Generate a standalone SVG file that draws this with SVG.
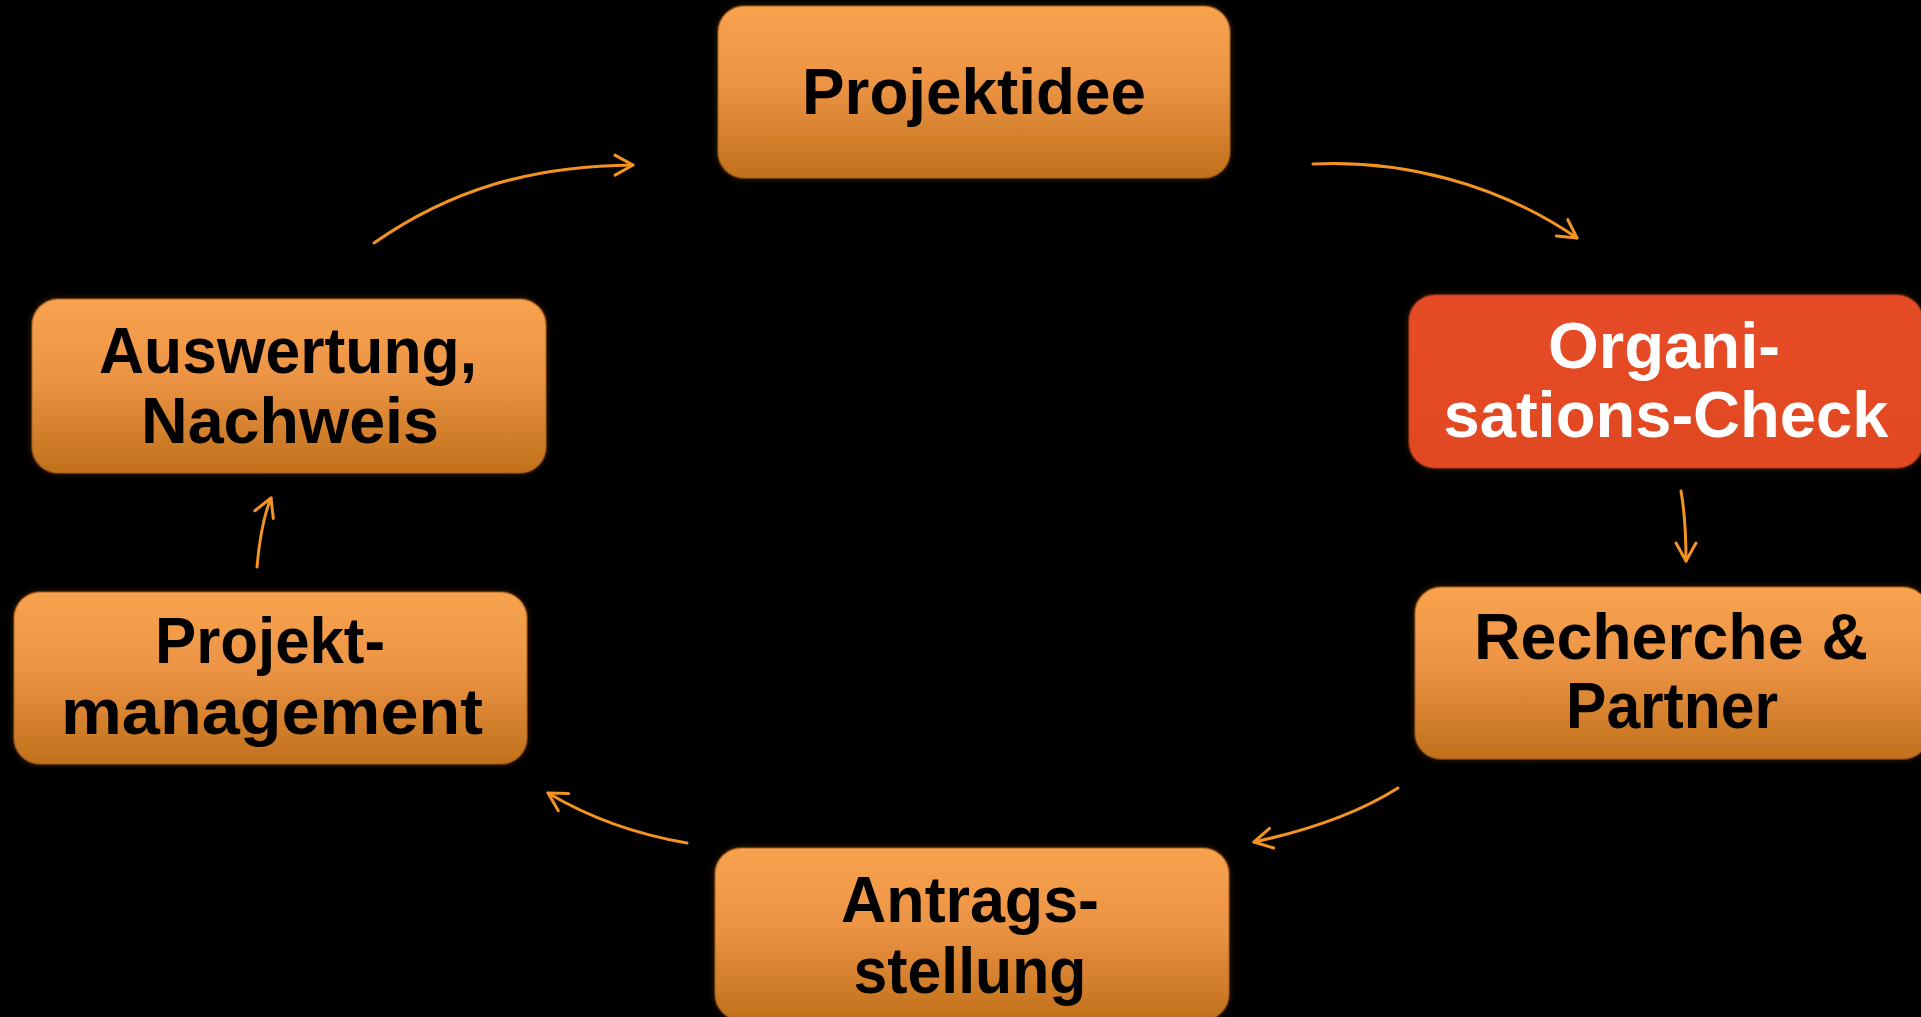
<svg xmlns="http://www.w3.org/2000/svg" width="1921" height="1017" viewBox="0 0 1921 1017">
<defs>
<linearGradient id="og" x1="0" y1="0" x2="0" y2="1">
<stop offset="0" stop-color="#F8A24F"/>
<stop offset="0.45" stop-color="#EC9444"/>
<stop offset="1" stop-color="#C1701B"/>
</linearGradient>
<linearGradient id="rg" x1="0" y1="0" x2="0" y2="1">
<stop offset="0" stop-color="#E64C26"/>
<stop offset="1" stop-color="#E14823"/>
</linearGradient>
<filter id="soft" x="-5%" y="-10%" width="110%" height="120%">
<feGaussianBlur in="SourceAlpha" stdDeviation="3" result="b"/>
<feFlood flood-color="#6b3a10" flood-opacity="0.6"/>
<feComposite in2="b" operator="in" result="s"/>
<feMerge><feMergeNode in="s"/><feMergeNode in="SourceGraphic"/></feMerge>
</filter>
<marker id="arr" markerUnits="userSpaceOnUse" markerWidth="40" markerHeight="40" refX="0" refY="0" orient="auto" overflow="visible">
<path d="M-18,-10 L0,0 L-18,10" fill="none" stroke="#F39322" stroke-width="3" stroke-linecap="round" stroke-linejoin="round"/>
</marker>
<style>
.box{fill:url(#og);stroke:#A9601A;stroke-opacity:0.5;stroke-width:2;filter:url(#soft)}
.red{fill:url(#rg);stroke:#B83A1C;stroke-opacity:0.5;stroke-width:2;filter:url(#soft)}
.t{font-family:"Liberation Sans",Arial,sans-serif;font-weight:bold;font-size:65px;text-anchor:middle;fill:#000}
.w{fill:#fff}
.c{fill:none;stroke:#F39322;stroke-width:3;stroke-linecap:round;marker-end:url(#arr)}
</style>
</defs>
<rect width="1921" height="1017" fill="#000"/>
<g id="connectors">
<path class="c" d="M1313,164 C1400,160 1495,182 1577,238"/>
<path class="c" d="M1681,491 Q1686,520 1686,561"/>
<path class="c" d="M1398,788 C1360,812 1310,830 1254,842"/>
<path class="c" d="M687,843 C640,835 590,818 548,793"/>
<path class="c" d="M257,567 Q261,522 271,498"/>
<path class="c" d="M374,243 C450,190 530,166 633,165"/>
</g>
<g id="projektidee">
<rect class="box" x="718" y="6" width="512" height="172" rx="26"/>
<text class="t" x="974" y="114" textLength="344" lengthAdjust="spacingAndGlyphs">Projektidee</text>
</g>
<g id="organisations-check">
<rect class="red" x="1409" y="295" width="514" height="173" rx="26"/>
<text class="t w" x="1664" y="368" textLength="232" lengthAdjust="spacingAndGlyphs">Organi-</text>
<text class="t w" x="1666" y="437" textLength="445" lengthAdjust="spacingAndGlyphs">sations-Check</text>
</g>
<g id="recherche-partner">
<rect class="box" x="1415" y="587" width="514" height="172" rx="26"/>
<text class="t" x="1671" y="659" textLength="394" lengthAdjust="spacingAndGlyphs">Recherche &amp;</text>
<text class="t" x="1672" y="728" textLength="212" lengthAdjust="spacingAndGlyphs">Partner</text>
</g>
<g id="antragsstellung">
<rect class="box" x="715" y="848" width="514" height="172" rx="26"/>
<text class="t" x="970" y="922" textLength="258" lengthAdjust="spacingAndGlyphs">Antrags-</text>
<text class="t" x="970" y="993" textLength="233" lengthAdjust="spacingAndGlyphs">stellung</text>
</g>
<g id="projektmanagement">
<rect class="box" x="14" y="592" width="513" height="172" rx="26"/>
<text class="t" x="270" y="663" textLength="230" lengthAdjust="spacingAndGlyphs">Projekt-</text>
<text class="t" x="272" y="734" textLength="422" lengthAdjust="spacingAndGlyphs">management</text>
</g>
<g id="auswertung-nachweis">
<rect class="box" x="32" y="299" width="514" height="174" rx="26"/>
<text class="t" x="288" y="373" textLength="378" lengthAdjust="spacingAndGlyphs">Auswertung,</text>
<text class="t" x="290" y="443" textLength="298" lengthAdjust="spacingAndGlyphs">Nachweis</text>
</g>
</svg>
